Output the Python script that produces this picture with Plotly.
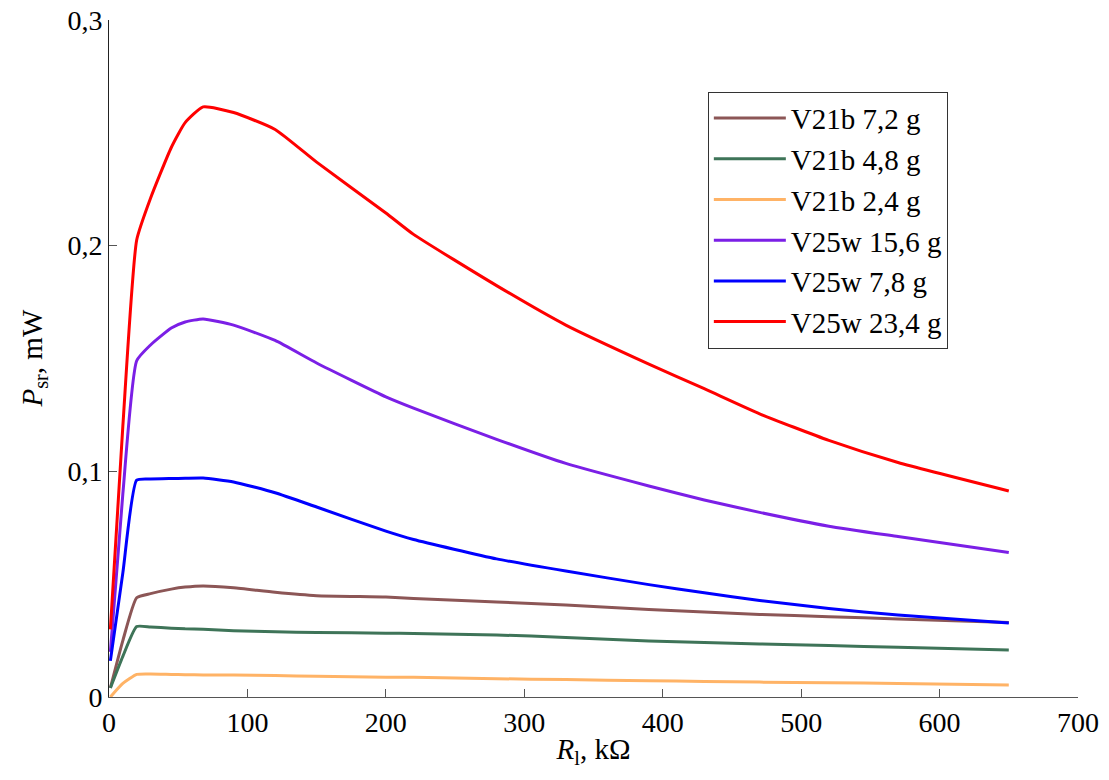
import plotly.graph_objects as go

R_kohm = [1, 10, 20, 30, 45, 55, 68, 90, 120, 150, 200, 220, 280, 330, 390, 430, 470, 520, 570, 650]

v21b_72 = [0.004, 0.025, 0.0440, 0.0458, 0.0478, 0.0487, 0.0492, 0.0484, 0.0464, 0.0449, 0.0443, 0.0437,
           0.0421, 0.0408, 0.0388, 0.0377, 0.0366, 0.0356, 0.0346, 0.0330]
v21b_48 = [0.004, 0.018, 0.0312, 0.0310, 0.0305, 0.0302, 0.0300, 0.0294, 0.0289, 0.0286, 0.0283, 0.0281,
           0.0275, 0.0264, 0.0248, 0.0241, 0.0235, 0.0228, 0.0220, 0.0208]
v21b_24 = [0.0, 0.006, 0.0100, 0.0102, 0.0100, 0.0099, 0.0098, 0.0097, 0.0095, 0.0092, 0.0088, 0.0087,
           0.0081, 0.0077, 0.0072, 0.0069, 0.0066, 0.0063, 0.0060, 0.0053]
v25w_156 = [0.02, 0.09, 0.149, 0.156, 0.1635, 0.1662, 0.1675, 0.1648, 0.158, 0.148, 0.133, 0.128,
            0.1142, 0.1035, 0.0935, 0.0873, 0.0818, 0.0757, 0.0711, 0.0640]
v25w_78 = [0.016, 0.055, 0.0961, 0.0966, 0.0968, 0.0969, 0.0970, 0.0953, 0.0905, 0.0842, 0.0735, 0.0698,
           0.0612, 0.0558, 0.0498, 0.0462, 0.0428, 0.0392, 0.0363, 0.0328]
v25w_234 = [0.03, 0.12, 0.2025, 0.221, 0.2435, 0.2545, 0.2615, 0.2590, 0.2515, 0.237, 0.2145, 0.205,
            0.1823, 0.1648, 0.1475, 0.1366, 0.1255, 0.1137, 0.1039, 0.0913]

series_names = ["V21b 7,2 g", "V21b 4,8 g", "V21b 2,4 g", "V25w 15,6 g", "V25w 7,8 g", "V25w 23,4 g"]
series_values = [v21b_72, v21b_48, v21b_24, v25w_156, v25w_78, v25w_234]
colors = ["#8c5656", "#3e7458", "#ffb366", "#7b1fe6", "#0000ff", "#ff0000"]

x_ticks = [0, 100, 200, 300, 400, 500, 600, 700]
y_tickvals = [0, 0.1, 0.2, 0.3]
y_ticktext = ["0", "0,1", "0,2", "0,3"]
x_title = "<i>R</i><sub>l</sub>, kΩ"
y_title = "<i>P</i><sub>sr</sub>, mW"

fig = go.Figure()
for name, vals, c in zip(series_names, series_values, colors):
    fig.add_trace(go.Scatter(x=R_kohm, y=vals, mode="lines", name=name,
                             line=dict(color=c, width=3, shape="spline", smoothing=0.5)))

font_family = "Liberation Serif, Times New Roman, serif"
# page body has an 8px default margin, so the figure is sized/offset to compensate
fig.update_layout(
    width=1093, height=764,
    margin=dict(l=101, r=23, t=12, b=75),
    paper_bgcolor="white", plot_bgcolor="white",
    font=dict(family=font_family, size=28, color="black"),
    showlegend=True,
    legend=dict(x=0.618, y=0.894, xanchor="left", yanchor="top",
                bgcolor="white", bordercolor="#333333", borderwidth=1,
                font=dict(family=font_family, size=29, color="black"),
                tracegroupgap=0, itemwidth=72),
)
fig.update_xaxes(range=[0, 700], tickvals=x_ticks, ticks="inside", ticklen=8, tickcolor="#555555",
                 showline=True, linecolor="#555555", linewidth=1, showgrid=False, zeroline=False,
                 automargin=False, ticklabeloverflow="allow",
                 title=dict(text=x_title, standoff=2, font=dict(size=29)),
                 tickfont=dict(size=28))
fig.update_yaxes(range=[0, 0.3], tickvals=y_tickvals, ticktext=y_ticktext, ticks="inside", ticklen=8,
                 tickcolor="#555555", showline=True, linecolor="#222222", linewidth=1, showgrid=False,
                 zeroline=False, automargin=False, ticklabeloverflow="allow",
                 tickfont=dict(size=28))
fig.add_annotation(text=y_title, xref="paper", yref="paper", x=0, y=0.5, xanchor="center",
                   yanchor="middle", xshift=-76, textangle=-90, showarrow=False,
                   font=dict(family=font_family, size=29, color="black"))

fig.write_html("out.html")
